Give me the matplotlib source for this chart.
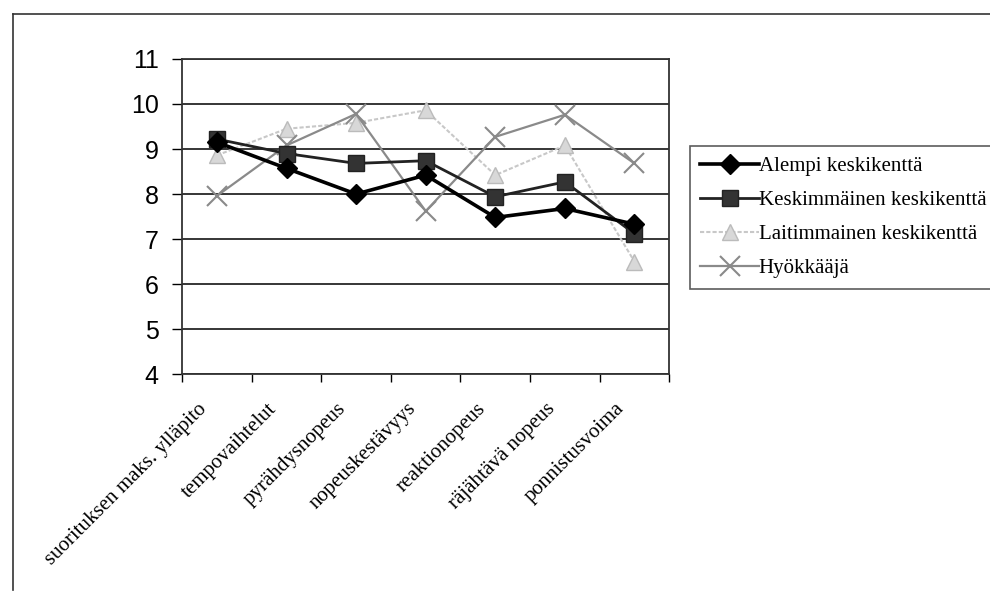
import matplotlib
matplotlib.use("Agg")
import matplotlib.pyplot as plt
from matplotlib.lines import Line2D

categories = ["suorituksen maks. ylläpito", "tempovaihtelut", "pyrähdysnopeus",
              "nopeuskestävyys", "reaktionopeus", "räjähtävä nopeus", "ponnistusvoima"]
alempi = [9.15, 8.57, 8.0, 8.42, 7.48, 7.68, 7.33]
keskimmainen = [9.22, 8.9, 8.68, 8.74, 7.94, 8.27, 7.12]
laitimmainen = [8.86, 9.45, 9.58, 9.86, 8.42, 9.08, 6.5]
hyokkaaja = [7.96, 9.08, 9.78, 7.62, 9.27, 9.76, 8.68]
y_ticks = [4, 5, 6, 7, 8, 9, 10, 11]

fig = plt.figure(figsize=(9.9, 5.95), dpi=100)
ax = fig.add_axes([0.184, 0.371, 0.492, 0.530])

x = list(range(len(categories)))
ax.plot(x, laitimmainen, color="#c8c8c8", lw=1.5, ls=(0, (2, 1)), marker="^",
        ms=12, mfc="#d8d8d8", mec="#bbbbbb", label="Laitimmainen keskikenttä", zorder=3)
ax.plot(x, hyokkaaja, color="#8a8a8a", lw=1.6, marker="x", ms=15, mew=1.5,
        label="Hyökkääjä", zorder=4)
ax.plot(x, keskimmainen, color="#222222", lw=2.0, marker="s", ms=12,
        mfc="#333333", mec="#222222", label="Keskimmäinen keskikenttä", zorder=5)
ax.plot(x, alempi, color="black", lw=2.6, marker="D", ms=10,
        label="Alempi keskikenttä", zorder=6)

ax.set_xlim(-0.5, len(categories) - 0.5)
ax.set_ylim(4, 11)
ax.set_yticks(y_ticks)
ax.set_yticklabels([str(v) for v in y_ticks], fontsize=18, family="Liberation Sans")
ax.yaxis.grid(True, color="black", lw=1.1)
ax.set_axisbelow(True)

# category boundaries get the tick marks, names sit diagonally under the centres
ax.set_xticks([i - 0.5 for i in range(len(categories) + 1)])
ax.set_xticklabels([])
for i, name in enumerate(categories):
    ax.annotate(name, xy=(i, 0), xycoords=ax.get_xaxis_transform(),
                xytext=(-9, -23), textcoords="offset points",
                rotation=45, ha="right", va="center", rotation_mode="anchor",
                fontsize=15, family="Liberation Serif", annotation_clip=False)
ax.tick_params(axis="x", which="major", length=6, direction="out", width=1)
ax.tick_params(axis="y", length=7, width=1, direction="out", pad=10)
for s in ax.spines.values():
    s.set_color("#333333")
    s.set_linewidth(1.3)

handles, labels = ax.get_legend_handles_labels()
order = [3, 2, 0, 1]
leg = fig.legend([handles[i] for i in order], [labels[i] for i in order],
                 loc="upper left", bbox_to_anchor=(0.697, 1 - 146 / 595),
                 prop={"family": "Liberation Serif", "size": 15},
                 frameon=True, fancybox=False, edgecolor="#333333",
                 handlelength=2.8, handletextpad=0.0, borderpad=0.5,
                 labelspacing=0.7, borderaxespad=0)
leg.get_frame().set_linewidth(1.2)

# outer frame of the scanned chart
fig.add_artist(Line2D([13 / 990, 13 / 990], [1 - 14 / 595, 5 / 595],
                      transform=fig.transFigure, color="#333333", lw=1.2))
fig.add_artist(Line2D([13 / 990, 1.0], [1 - 14 / 595, 1 - 14 / 595],
                      transform=fig.transFigure, color="#333333", lw=1.2))

fig.savefig("out.png", dpi=100)
